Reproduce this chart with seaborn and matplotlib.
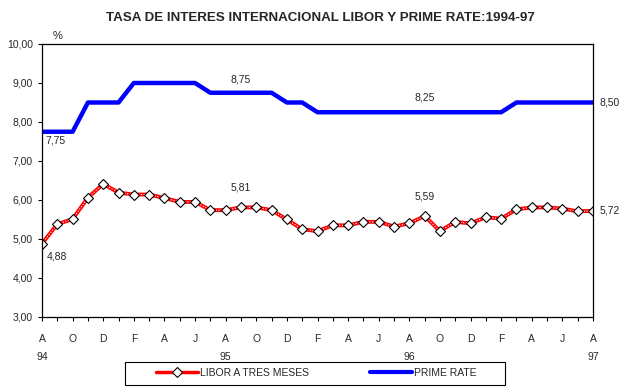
import numpy as np
import pandas as pd
import seaborn as sns
import matplotlib.pyplot as plt
from matplotlib.lines import Line2D
from matplotlib.patches import Rectangle

# monthly data, Aug 1994 - Aug 1997
libor = [4.88, 5.38, 5.51, 6.06, 6.41, 6.19, 6.14, 6.14, 6.05, 5.95,
         5.95, 5.74, 5.74, 5.81, 5.81, 5.74, 5.50, 5.25, 5.20, 5.35,
         5.35, 5.44, 5.44, 5.32, 5.40, 5.59, 5.20, 5.44, 5.40, 5.56,
         5.52, 5.76, 5.81, 5.81, 5.78, 5.71, 5.72]
prime = [7.75, 7.75, 7.75, 8.50, 8.50, 8.50, 9.00, 9.00, 9.00, 9.00,
         9.00, 8.75, 8.75, 8.75, 8.75, 8.75, 8.50, 8.50, 8.25, 8.25,
         8.25, 8.25, 8.25, 8.25, 8.25, 8.25, 8.25, 8.25, 8.25, 8.25,
         8.25, 8.50, 8.50, 8.50, 8.50, 8.50, 8.50]
month_labels = ['A', 'O', 'D', 'F', 'A', 'J', 'A', 'O', 'D', 'F',
                'A', 'J', 'A', 'O', 'D', 'F', 'A', 'J', 'A']
year_labels = {0: '94', 12: '95', 24: '96', 36: '97'}

df = pd.DataFrame({'mes': np.arange(len(libor)), 'libor': libor, 'prime': prime})

sns.set_style('white')
plt.rcParams['font.family'] = ['Liberation Sans', 'DejaVu Sans']

fig = plt.figure(figsize=(6.25, 3.9), dpi=100)
ax = fig.add_axes([0.0672, 0.1872, 0.8816, 0.7])

sns.lineplot(data=df, x='mes', y='prime', ax=ax, color='#0000ff', lw=3.2)
sns.lineplot(data=df, x='mes', y='libor', ax=ax, color='#ff0000', lw=2.8)
ax.plot(df['mes'], df['libor'], color='white', lw=0.8, ls=(0, (1, 1.5)))
ax.plot(df['mes'], df['libor'], ls='none', marker='D', ms=5,
        mfc='white', mec='black', mew=0.8)

ax.set_xlim(0, 36)
ax.set_ylim(3, 10)
ax.set_yticks(np.arange(3, 10.5, 1))
ax.set_yticklabels([f'{v:.2f}'.replace('.', ',') for v in np.arange(3, 10.5, 1)], fontsize=7.5)
ticks = list(range(0, 37, 2))
labels = [m + '\n' + year_labels.get(t, '') for t, m in zip(ticks, month_labels)]
ax.set_xticks(ticks)
ax.set_xticklabels(labels, fontsize=7.5, linespacing=2.0, va='top')
ax.set_xticks(range(0, 37), minor=True)
ax.tick_params(axis='both', which='both', direction='out', length=3, width=0.8,
               color='black', bottom=True, left=True)
ax.tick_params(axis='x', which='major', pad=9.5)
ax.set_xlabel('')
ax.set_ylabel('')
for s in ax.spines.values():
    s.set_color('black')
    s.set_linewidth(0.9)

# value annotations
ann = dict(fontsize=7.5, ha='center', va='center')
ax.text(0.85, 7.52, '7,75', **ann)
ax.text(13, 9.08, '8,75', **ann)
ax.text(25, 8.62, '8,25', **ann)
ax.text(36.4, 8.50, '8,50', fontsize=7.5, ha='left', va='center', clip_on=False)
ax.text(13, 6.32, '5,81', **ann)
ax.text(25, 6.08, '5,59', **ann)
ax.text(36.4, 5.72, '5,72', fontsize=7.5, ha='left', va='center', clip_on=False)
ax.text(1.0, 4.56, '4,88', **ann)
ax.text(1.0, 10.2, '%', fontsize=8, ha='center', va='center', clip_on=False)

fig.suptitle('TASA DE INTERES INTERNACIONAL LIBOR Y PRIME RATE:1994-97',
             x=0.512, y=0.968, fontsize=9.6, fontweight='bold')

h1 = Line2D([0, 1, 2], [0, 0, 0], color='#ff0000', lw=2.5, marker='D', ms=5,
            mfc='white', mec='black', mew=0.8, markevery=[1])
h2 = Line2D([], [], color='#0000ff', lw=3)
leg = fig.legend([h1, h2], ['LIBOR A TRES MESES', 'PRIME RATE'],
                 loc='center', bbox_to_anchor=(0.506, 0.0442), ncol=2,
                 fontsize=7.5, frameon=False, handlelength=4,
                 columnspacing=5.9, borderpad=0.3, handletextpad=0.2)
fig.patches.append(Rectangle((0.2, 0.0128), 0.608, 0.059, transform=fig.transFigure,
                             fill=False, edgecolor='black', lw=0.8))

plt.savefig('out.png', dpi=100)
